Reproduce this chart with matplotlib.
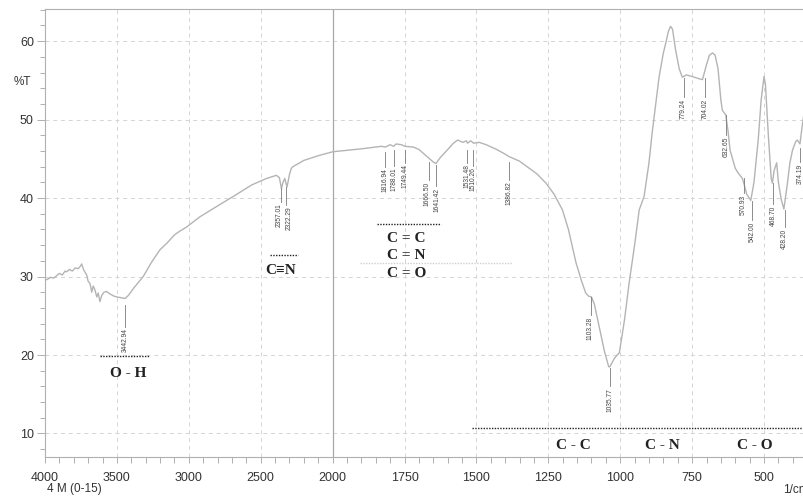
import numpy as np
import matplotlib
matplotlib.use("Agg")
import matplotlib.pyplot as plt
from matplotlib.ticker import FixedLocator

# ---- spectrum (wavenumber 1/cm, %T) ----
wavenumber = [4000, 3988, 3960, 3940, 3919, 3900, 3880, 3860, 3850, 3830,
              3810, 3790, 3769, 3755, 3745, 3730, 3710, 3700, 3687, 3675,
              3665, 3653, 3640, 3630, 3618, 3605, 3590, 3572, 3550, 3520,
              3500, 3470, 3443, 3420, 3380, 3317, 3260, 3201, 3150, 3100,
              3062, 3016, 2924, 2800, 2692, 2560, 2460, 2391, 2370, 2356,
              2345, 2333, 2317, 2300, 2287, 2276, 2200, 2100, 2000, 1895,
              1830, 1817, 1800, 1788, 1779, 1760, 1749, 1719, 1700, 1672,
              1666, 1650, 1641, 1625, 1602, 1580, 1565, 1547, 1535, 1531,
              1520, 1510, 1490, 1466, 1430, 1400, 1387, 1350, 1316, 1290,
              1258, 1230, 1201, 1180, 1154, 1135, 1120, 1110, 1100, 1090,
              1073, 1055, 1040, 1036, 1020, 1003, 985, 969, 950, 934,
              917, 900, 889, 875, 865, 850, 842, 832, 825, 818,
              808, 795, 784, 770, 750, 725, 714, 700, 690, 679,
              670, 660, 650, 645, 633, 625, 618, 600, 590, 575,
              560, 546, 535, 520, 510, 500, 495, 485, 475, 471,
              465, 456, 450, 440, 431, 420, 410, 401, 390, 384,
              375, 368, 361]
transmittance = [29.6, 29.6, 29.9, 29.8, 30.1, 30.4, 30.2, 30.7, 30.6, 30.9,
                 30.7, 31.1, 31.0, 31.3, 31.6, 30.8, 30.2, 29.4, 29.1, 28.0,
                 28.8, 28.3, 27.4, 27.9, 26.8, 27.6, 28.0, 28.1, 27.8, 27.5,
                 27.4, 27.3, 27.2, 27.6, 28.6, 30.0, 31.8, 33.4, 34.3, 35.3,
                 35.8, 36.3, 37.6, 39.0, 40.2, 41.7, 42.5, 42.9, 42.6, 41.2,
                 42.0, 42.5, 41.4, 43.0, 43.8, 44.0, 44.8, 45.4, 45.9, 46.3,
                 46.6, 46.5, 46.8, 46.6, 46.9, 46.8, 46.6, 46.5, 46.2, 45.3,
                 45.1, 44.6, 44.4, 45.2, 46.1, 47.0, 47.4, 47.1, 47.3, 47.0,
                 47.3, 47.0, 47.1, 46.8, 46.2, 45.6, 45.3, 44.7, 43.8, 43.1,
                 41.9, 40.5, 38.5, 36.0, 31.8, 29.5, 27.9, 27.5, 27.4, 26.5,
                 23.6, 20.5, 18.5, 18.5, 19.6, 20.3, 24.5, 29.2, 34.0, 38.5,
                 40.2, 44.5, 48.3, 52.5, 55.4, 58.5, 59.7, 61.3, 61.9, 61.5,
                 59.0, 56.5, 55.4, 55.7, 55.5, 55.2, 55.1, 57.0, 58.2, 58.5,
                 58.2, 56.5, 52.5, 51.2, 50.6, 48.5, 46.1, 43.8, 43.2, 42.5,
                 40.5, 39.7, 42.0, 47.5, 52.5, 55.5, 54.5, 48.0, 42.5, 41.9,
                 43.5, 44.5, 42.0, 39.8, 38.6, 41.5, 44.5, 46.1, 47.2, 47.4,
                 46.9, 49.0, 50.8]

# peak labels
peak_labels = ["3442.94", "2357.01", "2322.29", "1816.94", "1788.01", "1749.44",
               "1666.50", "1641.42", "1531.48", "1510.26", "1386.82", "1103.28",
               "1035.77", "779.24", "704.02", "632.65", "570.93", "542.00",
               "468.70", "428.20", "374.19"]
peak_top = [26.4, 41.3, 41.4, 45.9, 46.1, 46.1, 44.6, 44.2, 46.1, 46.1, 44.6,
            27.4, 18.3, 55.3, 55.3, 50.6, 42.5, 39.6, 41.9, 38.5, 46.4]
peak_bottom = [23.6, 39.5, 39.1, 44.0, 44.1, 44.5, 42.3, 41.5, 44.5, 44.1, 42.3,
               25.1, 16.0, 52.9, 52.9, 48.0, 40.6, 37.2, 39.2, 36.3, 44.6]

x_major = [4000, 3500, 3000, 2500, 2000, 1750, 1500, 1250, 1000, 750, 500]
y_major = [10, 20, 30, 40, 50, 60]


def fwd(x):
    x = np.asarray(x, dtype=float)
    return np.where(x > 2000, 2000 + (x - 2000) / 2.0, x)


def inv(u):
    u = np.asarray(u, dtype=float)
    return np.where(u > 2000, 2000 + (u - 2000) * 2.0, u)


plt.rcParams['font.family'] = ['Liberation Sans', 'DejaVu Sans']

fig = plt.figure(figsize=(8.04, 4.98), dpi=100)
ax = fig.add_axes([45 / 804, 41 / 498, 1 - 45 / 804, 448 / 498])
ax.set_xscale('function', functions=(fwd, inv))
ax.set_xlim(4000, 361)
ax.set_ylim(7.0, 64.1)

ax.xaxis.set_major_locator(FixedLocator(x_major))
ax.xaxis.set_minor_locator(FixedLocator(list(range(3900, 2000, -100)) +
                                        list(range(1950, 350, -50))))
ax.yaxis.set_major_locator(FixedLocator(y_major))
ax.yaxis.set_minor_locator(FixedLocator(list(range(8, 65, 2))))
ax.set_xticklabels([str(v) for v in x_major])

ax.grid(True, which='major', color='#d4d4d4', linestyle=(0, (4, 4)), linewidth=0.7)
ax.axvline(2000, color='#a8a8a8', linewidth=0.9)

for s in ['left', 'bottom', 'top']:
    ax.spines[s].set_color('#b0b0b0')
    ax.spines[s].set_linewidth(0.8)
ax.spines['right'].set_visible(False)
ax.tick_params(which='major', direction='out', length=6, width=0.7,
               colors='#b0b0b0', labelcolor='#333333', labelsize=9, pad=2)
ax.tick_params(which='minor', direction='out', length=3.5, width=0.7,
               colors='#b0b0b0')
ax.tick_params(axis='x', which='major', length=4, pad=7)
ax.tick_params(axis='x', which='minor', length=4)

ax.plot(wavenumber, transmittance, color='#b4b4b4', linewidth=1.0)

# peak markers (two close pairs get their text nudged apart a little)
nudge = {"2357.01": -2, "2322.29": 2.5, "1666.50": -1, "1641.42": 1.5}
for lab, top, bot in zip(peak_labels, peak_top, peak_bottom):
    w = float(lab)
    ax.plot([w, w], [top, bot], color='#7a7a7a', linewidth=0.6)
    ax.annotate(lab, (w, bot - 0.2), xytext=(nudge.get(lab, 0) * 0.72, 0),
                textcoords='offset points', rotation=90, ha='center',
                va='top', fontsize=4.8, color='#444444')

# functional group notes
serif = ['Liberation Serif', 'DejaVu Serif']
dot = (0, (1, 1))
ax.plot([3618, 3271], [19.9, 19.9], color='#222222', linestyle=dot, linewidth=1)
ax.text(3424, 17.7, "O - H", ha='center', va='center', fontsize=11,
        fontweight='bold', family=serif, color='#222222')

ax.plot([2437, 2243], [32.7, 32.7], color='#222222', linestyle=dot, linewidth=1)
ax.text(2361, 30.8, "C≡N", ha='center', va='center', fontsize=11,
        fontweight='bold', family=serif, color='#222222')

ax.plot([1844, 1622], [36.7, 36.7], color='#222222', linestyle=dot, linewidth=1)
ax.plot([1906, 1375], [31.7, 31.7], color='#cfcfcf', linestyle=dot, linewidth=1)
for txt, yy in zip(["C = C", "C = N", "C = O"], [34.9, 32.7, 30.4]):
    ax.text(1743, yy, txt, ha='center', va='center', fontsize=11,
            fontweight='bold', family=serif, color='#222222')

ax.plot([1514, 361], [10.7, 10.7], color='#222222', linestyle=dot, linewidth=1)
for txt, xx in zip(["C - C", "C - N", "C - O"], [1163, 854, 531]):
    ax.text(xx, 8.5, txt, ha='center', va='center', fontsize=11,
            fontweight='bold', family=serif, color='#222222')

fig.text(22 / 804, 1 - 82 / 498, "%T", ha='center', va='center',
         fontsize=8.5, color='#333333')
fig.text(47 / 804, 1 - 489 / 498, "4 M (0-15)", ha='left', va='center',
         fontsize=8.5, color='#333333')
fig.text(783 / 804, 1 - 490 / 498, "1/cm", ha='left', va='center',
         fontsize=8.5, color='#333333')

fig.savefig("out.png", dpi=100)
